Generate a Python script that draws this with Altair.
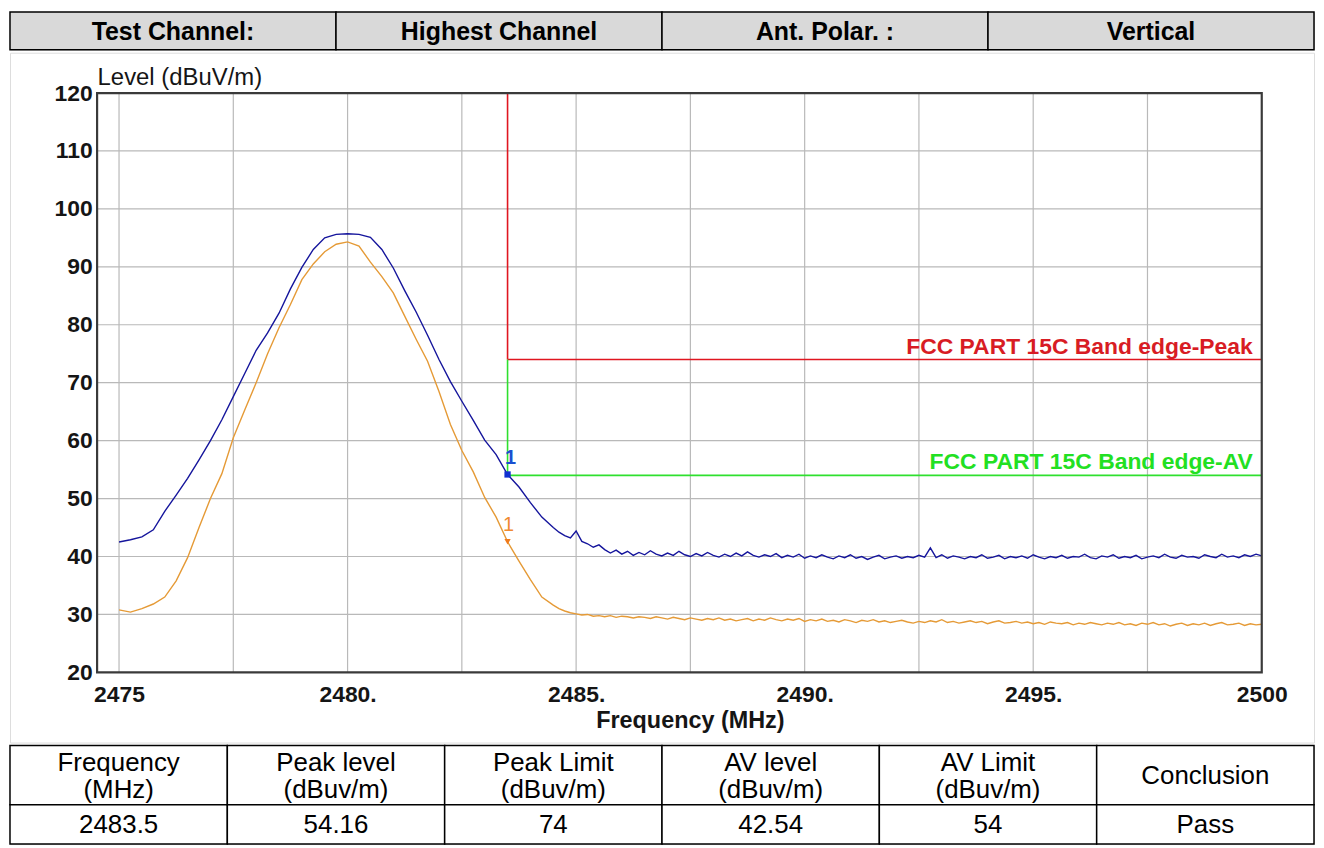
import altair as alt
import pandas as pd

# ---------------- data ----------------
header_cells = ["Test Channel:", "Highest Channel", "Ant. Polar. :", "Vertical"]

table_head = ["Frequency\n(MHz)", "Peak level\n(dBuv/m)", "Peak Limit\n(dBuv/m)",
              "AV level\n(dBuv/m)", "AV Limit\n(dBuv/m)", "Conclusion"]
table_vals = ["2483.5", "54.16", "74", "42.54", "54", "Pass"]

x_tick_values = [2475, 2480, 2485, 2490, 2495, 2500]
x_tick_labels = ["2475", "2480.", "2485.", "2490.", "2495.", "2500"]
y_tick_values = [20, 30, 40, 50, 60, 70, 80, 90, 100, 110, 120]
x_grid = [2475, 2477.5, 2480, 2482.5, 2485, 2487.5, 2490, 2492.5, 2495, 2497.5]
y_grid = [30, 40, 50, 60, 70, 80, 90, 100, 110]
x_frame = [2474.52, 2500]
y_frame = [20, 120]

band_edge = 2483.5
peak_limit = 74
av_limit = 54
marker_levels = [54.16, 42.54]
limit_labels = ["FCC PART 15C Band edge-Peak", "FCC PART 15C Band edge-AV"]

# sweep frequencies (MHz): coarse part then fine part
freq_main = [2475 + 0.25 * i for i in range(39)]          # 2475.00 .. 2484.50
freq_tail = [2484.625 + 0.125 * i for i in range(124)]    # 2484.625 .. 2500.00

peak_main = [42.5, 42.9, 43.4, 44.6, 47.8, 50.6, 53.5, 56.7,
             60.0, 63.6, 67.6, 71.6, 75.6, 78.6, 82.0, 86.2,
             89.9, 93.0, 95.0, 95.6, 95.7, 95.6, 95.1, 93.0,
             89.8, 85.9, 82.2, 78.2, 74.0, 70.2, 66.8, 63.5,
             60.1, 57.6, 54.16, 52.0, 49.3, 46.8, 45.0]
peak_tail = [44.2, 43.6, 43.2, 44.4, 42.6, 42.2, 41.6, 42.0,
             41.2, 40.6, 41.1, 40.4, 40.9, 40.2, 40.7, 40.3,
             41.0, 40.4, 40.1, 40.6, 40.2, 40.9, 40.3, 40.0,
             40.5, 40.1, 40.7, 40.2, 39.9, 40.4, 40.0, 40.6,
             40.1, 40.8, 40.2, 39.9, 40.3, 40.0, 40.5, 39.8,
             40.2, 39.9, 40.4, 39.7, 40.1, 39.8, 40.3, 39.9,
             39.6, 40.1, 39.8, 40.3, 39.7, 40.0, 39.5, 39.9,
             40.2, 39.6, 39.9, 40.1, 39.7, 40.0, 39.8, 40.2,
             39.9, 41.5, 39.8, 40.3, 39.7, 40.1, 39.9, 39.6,
             40.0, 39.8, 40.3, 39.7, 39.9, 40.2, 39.6, 40.0,
             39.8, 40.1, 39.7, 40.3, 39.9, 39.6, 40.0, 39.8,
             40.2, 39.7, 40.0, 39.9, 40.4, 39.8, 39.6, 40.1,
             39.9, 40.3, 39.7, 40.0, 39.8, 40.2, 39.6, 39.9,
             40.1, 39.8, 40.4, 39.9, 39.7, 40.2, 39.9, 40.0,
             39.7, 40.3, 40.0, 39.8, 40.4, 39.9, 40.1, 39.8,
             40.3, 40.0, 40.4, 40.1]

av_main = [30.8, 30.4, 31.0, 31.8, 33.0, 35.8, 39.8, 45.0,
           50.0, 54.3, 60.5, 65.3, 70.0, 75.0, 79.5, 83.5,
           87.8, 90.5, 92.6, 93.9, 94.3, 93.6, 90.8, 88.3,
           85.5, 81.5, 77.5, 73.7, 68.5, 62.8, 58.3, 54.6,
           50.2, 46.8, 42.54, 39.2, 36.0, 33.0, 31.6]
av_tail = [31.0, 30.6, 30.3, 30.1, 29.9, 30.0, 29.7, 29.8,
           29.6, 29.8, 29.5, 29.7, 29.6, 29.4, 29.6, 29.5,
           29.3, 29.6, 29.4, 29.2, 29.5, 29.3, 29.1, 29.4,
           29.2, 29.0, 29.3, 29.1, 29.4, 29.0, 29.2, 28.9,
           29.1, 29.3, 28.9, 29.2, 29.0, 29.4, 29.1, 28.9,
           29.2, 29.0, 29.3, 28.8, 29.1, 28.9, 29.2, 28.8,
           29.0, 28.7, 29.1, 28.9, 28.6, 29.0, 28.8, 29.1,
           28.7, 28.9, 28.6, 28.8, 29.0, 28.7, 28.5, 28.8,
           28.6, 28.9, 28.7, 29.1, 28.6, 28.8, 28.5, 28.7,
           28.9, 28.6, 28.8, 28.4, 28.7, 28.9, 28.5, 28.6,
           28.8, 28.5, 28.7, 28.4, 28.6, 28.3, 28.7, 28.5,
           28.4, 28.6, 28.2, 28.5, 28.3, 28.6, 28.4, 28.2,
           28.5, 28.3, 28.6, 28.2, 28.4, 28.1, 28.5, 28.3,
           28.6, 28.2, 28.4, 28.0, 28.3, 28.5, 28.1, 28.4,
           28.2, 28.5, 28.1, 28.4, 28.6, 28.2, 28.3, 28.5,
           28.1, 28.4, 28.2, 28.3]

# ---------------- style ----------------
FONT = "Liberation Sans"
W = 1310
H_HEAD, H_MID, H_TAB = 38, 693, 99
BLUE = "#15159c"
ORANGE = "#e59a36"
RED = "#e01620"
GREEN = "#2ee02e"
GRID = "#b9b9b9"
INK = "#151515"

# ---------------- header row ----------------
hdf = pd.DataFrame({"text": header_cells,
                    "c0": list(range(len(header_cells))),
                    "row": ["h"] * len(header_cells)})
hdf["c1"] = hdf["c0"] + 1
hdf["cm"] = hdf["c0"] + 0.5
hx = alt.Scale(domain=[0, len(header_cells)], nice=False, zero=False)
hy = alt.Scale(paddingInner=0, paddingOuter=0)
head_rect = alt.Chart(hdf).mark_rect(fill="#d9d9d9", stroke="black", strokeWidth=1.5).encode(
    x=alt.X("c0:Q", scale=hx, axis=None), x2="c1:Q",
    y=alt.Y("row:N", scale=hy, axis=None))
head_text = alt.Chart(hdf).mark_text(font=FONT, fontSize=25, fontWeight="bold", color="black", dy=1).encode(
    x=alt.X("cm:Q", scale=hx, axis=None), y=alt.Y("row:N", scale=hy, axis=None), text="text:N")
header = alt.layer(head_rect, head_text).properties(width=W, height=H_HEAD)

# ---------------- main plot ----------------
peak_df = pd.DataFrame({"f": freq_main + freq_tail, "level": peak_main + peak_tail})
av_df = pd.DataFrame({"f": freq_main + freq_tail, "level": av_main + av_tail})

label_expr = " : ".join(f"datum.value == {v} ? '{l}'" for v, l in zip(x_tick_values, x_tick_labels)) + " : ''"

xs = alt.Scale(domain=x_frame, rangeMin=87.5, rangeMax=1257.5, nice=False, zero=False)
ys = alt.Scale(domain=y_frame, rangeMin=622.5, rangeMax=40.5, nice=False, zero=False)
xax = alt.Axis(values=x_tick_values, labelExpr=label_expr, offset=-70.5, domain=False, ticks=False,
               grid=False, labelFont=FONT, labelFontSize=23, labelFontWeight="bold", labelColor=INK,
               labelPadding=11, labelOverlap=False, labelFlush=False,
               title="Frequency (MHz)", titleFont=FONT, titleFontSize=23.5, titleFontWeight="bold",
               titleColor=INK, titleX=683, titlePadding=2)
yax = alt.Axis(values=y_tick_values, offset=-87.5, domain=False, ticks=False, grid=False,
               labelFont=FONT, labelFontSize=23, labelFontWeight="bold", labelColor=INK,
               labelPadding=5, labelOverlap=False,
               title="Level (dBuV/m)", titleAngle=0, titleAlign="left", titleBaseline="alphabetic",
               titleX=0, titleY=32, titleFont=FONT, titleFontSize=24, titleFontWeight="normal",
               titleColor=INK)


def X(field):
    return alt.X(field, scale=xs, axis=xax)


def Y(field):
    return alt.Y(field, scale=ys, axis=yax)


gx = pd.DataFrame({"f": x_grid, "y0": y_frame[0], "y1": y_frame[1]})
gy = pd.DataFrame({"v": y_grid, "x0": x_frame[0], "x1": x_frame[1]})
grid_v = alt.Chart(gx).mark_rule(color=GRID, strokeWidth=1.2).encode(x=X("f:Q"), y=Y("y0:Q"), y2="y1:Q")
grid_h = alt.Chart(gy).mark_rule(color=GRID, strokeWidth=1.2).encode(y=Y("v:Q"), x=X("x0:Q"), x2="x1:Q")

frame_df = pd.DataFrame({"x0": [x_frame[0]], "x1": [x_frame[1]], "y0": [y_frame[0]], "y1": [y_frame[1]]})
frame = alt.Chart(frame_df).mark_rect(fill=None, stroke="#3a3a3a", strokeWidth=2.2).encode(
    x=X("x0:Q"), x2="x1:Q", y=Y("y0:Q"), y2="y1:Q")

line_av = alt.Chart(av_df).mark_line(strokeWidth=1.4, color=ORANGE).encode(x=X("f:Q"), y=Y("level:Q"))
line_pk = alt.Chart(peak_df).mark_line(strokeWidth=1.4, color=BLUE).encode(x=X("f:Q"), y=Y("level:Q"))

peak_seg = pd.DataFrame({"x0": [band_edge, band_edge], "x1": [band_edge, x_frame[1]],
                         "y0": [peak_limit, peak_limit], "y1": [y_frame[1], peak_limit]})
av_seg = pd.DataFrame({"x0": [band_edge, band_edge], "x1": [band_edge, x_frame[1]],
                       "y0": [av_limit, av_limit], "y1": [peak_limit, av_limit]})
peak_lines = alt.Chart(peak_seg).mark_rule(strokeWidth=1.6, color=RED).encode(
    x=X("x0:Q"), x2="x1:Q", y=Y("y0:Q"), y2="y1:Q")
av_lines = alt.Chart(av_seg).mark_rule(strokeWidth=1.6, color=GREEN).encode(
    x=X("x0:Q"), x2="x1:Q", y=Y("y0:Q"), y2="y1:Q")

pk_txt_df = pd.DataFrame({"f": [x_frame[1]], "level": [peak_limit], "text": [limit_labels[0]]})
av_txt_df = pd.DataFrame({"f": [x_frame[1]], "level": [av_limit], "text": [limit_labels[1]]})
txt_kw = dict(font=FONT, fontSize=23, fontWeight="bold", align="right", baseline="alphabetic", dx=-9, dy=-6)
peak_text = alt.Chart(pk_txt_df).mark_text(color="#d81c24", **txt_kw).encode(
    x=X("f:Q"), y=Y("level:Q"), text="text:N")
av_text = alt.Chart(av_txt_df).mark_text(color="#22e022", **txt_kw).encode(
    x=X("f:Q"), y=Y("level:Q"), text="text:N")

mk_pk = pd.DataFrame({"f": [band_edge], "level": [marker_levels[0]], "label": ["1"]})
mk_av = pd.DataFrame({"f": [band_edge], "level": [marker_levels[1]], "label": ["1"]})
mk_sq = alt.Chart(mk_pk).mark_point(shape="square", filled=True, size=40, opacity=1, color="#1030d0").encode(
    x=X("f:Q"), y=Y("level:Q"))
mk_tri = alt.Chart(mk_av).mark_point(shape="triangle-down", filled=True, size=40, opacity=1,
                                     color="#f07a1a").encode(x=X("f:Q"), y=Y("level:Q"))
mk_pk_text = alt.Chart(mk_pk).mark_text(font=FONT, fontSize=20, fontWeight="bold", dy=-17, dx=3,
                                        color="#1a4fd0").encode(
    x=X("f:Q"), y=Y("level:Q"), text="label:N")
mk_av_text = alt.Chart(mk_av).mark_text(font=FONT, fontSize=20, dy=-17, dx=1, color="#f08a30").encode(
    x=X("f:Q"), y=Y("level:Q"), text="label:N")

middle = alt.layer(grid_v, grid_h, line_av, line_pk, peak_lines, av_lines, peak_text, av_text, frame,
                   mk_sq, mk_tri, mk_pk_text, mk_av_text).properties(width=W, height=H_MID)

# ---------------- result table ----------------
n = len(table_head)
LINE_UNITS = 13.5 / (H_TAB / 2.5)   # half a text line, in row units
rows = []
for i in range(n):
    rows.append({"c0": i, "c1": i + 1, "r0": 0.0, "r1": 1.5, "text": table_head[i]})
    rows.append({"c0": i, "c1": i + 1, "r0": 1.5, "r1": 2.5, "text": table_vals[i]})
tdf = pd.DataFrame(rows)
tdf["cm"] = tdf["c0"] + 0.5
tdf["rm"] = (tdf["r0"] + tdf["r1"]) / 2 - tdf["text"].str.count("\n") * LINE_UNITS
tx = alt.Scale(domain=[0, n], nice=False, zero=False)
ty = alt.Scale(domain=[0, 2.5], nice=False, zero=False, reverse=True)
tab_rect = alt.Chart(tdf).mark_rect(fill="white", stroke="black", strokeWidth=1.5).encode(
    x=alt.X("c0:Q", scale=tx, axis=None), x2="c1:Q",
    y=alt.Y("r0:Q", scale=ty, axis=None), y2="r1:Q")
tab_text = alt.Chart(tdf).mark_text(font=FONT, fontSize=26, color="black", lineBreak="\n",
                                    lineHeight=27, dy=1).encode(
    x=alt.X("cm:Q", scale=tx, axis=None), y=alt.Y("rm:Q", scale=ty, axis=None), text="text:N")
table = alt.layer(tab_rect, tab_text).properties(width=W, height=H_TAB)

chart = alt.vconcat(header, middle, table, spacing=0).properties(
    padding={"left": 0, "top": 0, "right": 0, "bottom": 0}
).configure_view(stroke="black", strokeWidth=3).configure(background="white")

chart.save("out.html", embed_options={"renderer": "svg", "actions": False})
